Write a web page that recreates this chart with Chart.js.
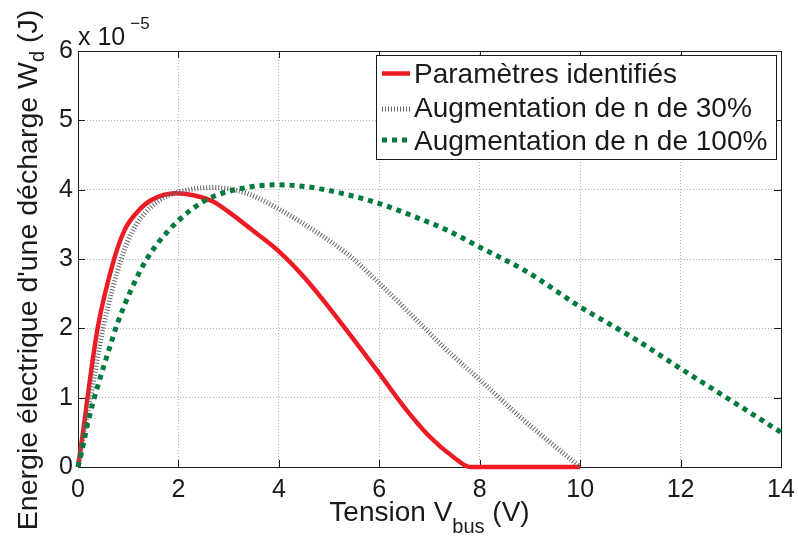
<!DOCTYPE html>
<html>
<head>
<meta charset="utf-8">
<script src="https://cdn.jsdelivr.net/npm/chart.js@4/dist/chart.umd.min.js"></script>
<style>
  html, body { margin: 0; padding: 0; background: #fff; }
  #wrap { width: 798px; height: 538px; }
</style>
</head>
<body>
<div id="wrap"><canvas id="c" width="798" height="538"></canvas></div>
<script>
// ---- Data (energy in units of 1e-5 J) ----
const seriesNames = ['Paramètres identifiés', 'Augmentation de n de 30%', 'Augmentation de n de 100%'];

const xRed = [0, 0.1, 0.19, 0.39, 0.72, 0.93, 1.16, 1.46, 1.95, 2.3, 2.69, 3.0, 3.5, 4.0, 4.5, 5.0, 5.5, 6.0, 6.5, 7.0, 7.5, 7.8, 10];
const yRed = [0, 0.5, 1.0, 2.0, 3.0, 3.42, 3.66, 3.85, 3.95, 3.92, 3.83, 3.68, 3.40, 3.11, 2.74, 2.30, 1.83, 1.35, 0.86, 0.44, 0.13, 0, 0];

const xGray = [0, 0.1, 0.25, 0.5, 0.86, 1.1, 1.33, 1.63, 1.93, 2.4, 2.69, 3.35, 4.0, 4.68, 5.35, 6.0, 6.67, 7.34, 8.0, 8.87, 10];
const yGray = [0, 0.42, 1.0, 2.0, 3.0, 3.42, 3.66, 3.85, 3.95, 4.02, 4.03, 3.95, 3.72, 3.42, 3.08, 2.65, 2.17, 1.69, 1.26, 0.68, 0];

const xGreen = [0, 0.07, 0.21, 0.39, 0.59, 0.80, 1.06, 1.37, 1.79, 2.29, 2.69, 3.35, 4.0, 4.68, 5.35, 6.0, 6.67, 7.34, 8.0, 8.93, 10, 11.06, 12, 12.98, 14];
const yGreen = [0, 0.21, 0.68, 1.16, 1.63, 2.10, 2.56, 3.0, 3.40, 3.73, 3.90, 4.03, 4.07, 4.03, 3.93, 3.80, 3.62, 3.42, 3.17, 2.82, 2.31, 1.86, 1.42, 0.97, 0.50];

const xTicks = [0, 2, 4, 6, 8, 10, 12, 14];
const yTicks = [0, 1, 2, 3, 4, 5, 6];

const FONT = '"Liberation Sans", Arial, Helvetica, sans-serif';
const TXT = '#1a1a1a';
const RED = '#ed1c24';
const GRAY = '#666666';
const GREEN = '#007a3d';

function pts(xs, ys) { return xs.map((x, i) => ({ x: x, y: ys[i] })); }

const styles = [
  { color: RED, width: 4.5, dash: [] },
  { color: GRAY, width: 5, dash: [1, 2] },
  { color: GREEN, width: 5, dash: [5, 5] }
];

const decorPlugin = {
  id: 'decor',
  beforeDatasetsDraw(chart) {
    const ctx = chart.ctx;
    const a = chart.chartArea;
    const xs = chart.scales.x, ys = chart.scales.y;
    ctx.save();
    ctx.strokeStyle = '#1a1a1a';
    ctx.lineWidth = 1;
    ctx.setLineDash([]);
    ctx.beginPath();
    const tl = 7;
    xs.ticks.forEach(t => {
      const px = Math.round(xs.getPixelForValue(t.value)) + 0.5;
      ctx.moveTo(px, a.bottom); ctx.lineTo(px, a.bottom - tl);
      ctx.moveTo(px, a.top); ctx.lineTo(px, a.top + tl);
    });
    ys.ticks.forEach(t => {
      const py = Math.round(ys.getPixelForValue(t.value)) + 0.5;
      ctx.moveTo(a.left, py); ctx.lineTo(a.left + tl, py);
      ctx.moveTo(a.right, py); ctx.lineTo(a.right - tl, py);
    });
    ctx.stroke();
    ctx.strokeRect(Math.round(a.left) + 0.5, Math.round(a.top) + 0.5, Math.round(a.right - a.left), Math.round(a.bottom - a.top));
    ctx.restore();
  },
  afterDraw(chart) {
    const ctx = chart.ctx;
    const a = chart.chartArea;
    ctx.save();
    ctx.fillStyle = TXT;
    ctx.textBaseline = 'alphabetic';
    ctx.textAlign = 'left';

    // exponent label
    ctx.font = '25px ' + FONT;
    ctx.fillText('x 10', a.left, 45);
    const w10 = ctx.measureText('x 10').width;
    ctx.font = '17px ' + FONT;
    ctx.fillText('\u22125', a.left + w10 + 5, 29);

    // x title
    const xMain = 'Tension V', xSub = 'bus', xEnd = ' (V)';
    ctx.font = '28px ' + FONT;
    const w1 = ctx.measureText(xMain).width, w3 = ctx.measureText(xEnd).width;
    ctx.font = '20px ' + FONT;
    const w2 = ctx.measureText(xSub).width;
    let sx = (a.left + a.right) / 2 - (w1 + w2 + w3) / 2;
    const bx = 521;
    ctx.font = '28px ' + FONT;
    ctx.fillText(xMain, sx, bx);
    ctx.font = '20px ' + FONT;
    ctx.fillText(xSub, sx + w1, bx + 12);
    ctx.font = '28px ' + FONT;
    ctx.fillText(xEnd, sx + w1 + w2, bx);

    // y title (rotated)
    const yMain = "Energie électrique d'une décharge W", ySub = 'd', yEnd = ' (J)';
    ctx.font = '28.5px ' + FONT;
    const v1 = ctx.measureText(yMain).width, v3 = ctx.measureText(yEnd).width;
    ctx.font = '20px ' + FONT;
    const v2 = ctx.measureText(ySub).width;
    const tot = v1 + v2 + v3;
    ctx.translate(37, 270);
    ctx.rotate(-Math.PI / 2);
    let s = -tot / 2;
    ctx.font = '28.5px ' + FONT;
    ctx.fillText(yMain, s, 0);
    ctx.font = '20px ' + FONT;
    ctx.fillText(ySub, s + v1, 7);
    ctx.font = '28.5px ' + FONT;
    ctx.fillText(yEnd, s + v1 + v2, 0);
    ctx.setTransform(1, 0, 0, 1, 0, 0);

    // legend
    const L = 376.5, T = 55.5, R = 776.5, B = 159.5;
    ctx.fillStyle = '#ffffff';
    ctx.fillRect(L, T, R - L, B - T);
    ctx.strokeStyle = '#1a1a1a';
    ctx.lineWidth = 1;
    ctx.setLineDash([]);
    ctx.strokeRect(L, T, R - L, B - T);
    const rowsBase = [83, 116.5, 150];
    const rowsLine = [73.5, 109, 140];
    ctx.font = '28px ' + FONT;
    ctx.fillStyle = TXT;
    chart.data.datasets.forEach((ds, i) => {
      ctx.save();
      ctx.strokeStyle = ds.borderColor;
      ctx.lineWidth = ds.borderWidth;
      ctx.setLineDash(ds.borderDash || []);
      ctx.lineCap = 'butt';
      ctx.beginPath();
      ctx.moveTo(382, rowsLine[i]);
      ctx.lineTo(410, rowsLine[i]);
      ctx.stroke();
      ctx.restore();
      ctx.fillText(ds.label, 414, rowsBase[i]);
    });
    ctx.restore();
  }
};

const datasets = [
  { label: seriesNames[0], data: pts(xRed, yRed), order: 3 },
  { label: seriesNames[1], data: pts(xGray, yGray), order: 2 },
  { label: seriesNames[2], data: pts(xGreen, yGreen), order: 1 }
].map((d, i) => Object.assign(d, {
  borderColor: styles[i].color,
  backgroundColor: styles[i].color,
  borderWidth: styles[i].width,
  borderDash: styles[i].dash,
  borderCapStyle: 'butt',
  pointRadius: 0,
  fill: false,
  cubicInterpolationMode: 'monotone',
  clip: false
}));

new Chart(document.getElementById('c'), {
  type: 'line',
  data: { datasets: datasets },
  options: {
    responsive: false,
    animation: false,
    devicePixelRatio: 1,
    layout: { padding: { left: 0, right: 17, top: 51, bottom: 0 } },
    scales: {
      x: {
        type: 'linear', min: 0, max: 14,
        afterBuildTicks: s => { s.ticks = xTicks.map(v => ({ value: v })); },
        ticks: { font: { family: FONT, size: 25 }, color: TXT, padding: 8, maxRotation: 0, autoSkip: false },
        grid: { color: '#b0b0b0', lineWidth: 1, drawTicks: false },
        border: { display: false, dash: [1, 2] },
        afterFit: s => { s.height = 71; s.paddingLeft = 0; s.paddingRight = 0; }
      },
      y: {
        type: 'linear', min: 0, max: 6,
        afterBuildTicks: s => { s.ticks = yTicks.map(v => ({ value: v })); },
        ticks: { font: { family: FONT, size: 25 }, color: TXT, padding: 5, autoSkip: false },
        grid: { color: '#b0b0b0', lineWidth: 1, drawTicks: false },
        border: { display: false, dash: [1, 2] },
        afterFit: s => { s.width = 78; s.paddingTop = 0; s.paddingBottom = 0; }
      }
    },
    plugins: { legend: { display: false }, tooltip: { enabled: false } }
  },
  plugins: [decorPlugin]
});
</script>
</body>
</html>
